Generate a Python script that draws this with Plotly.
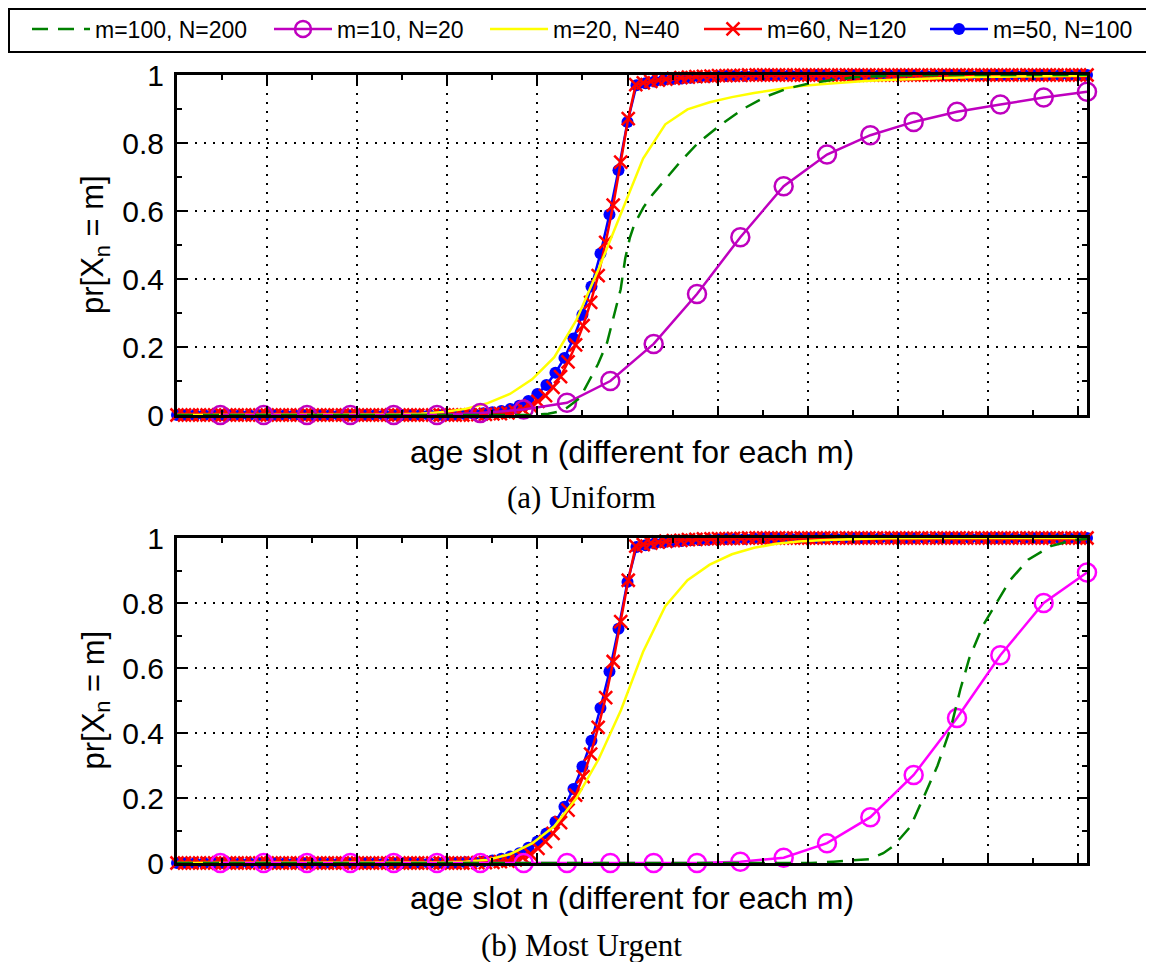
import plotly.graph_objects as go

# ---------------- data ----------------
X_MAX = 101  # axis span in age-slot units of the N=100 series

# m=50, N=100 (blue dots), n = 0..101
blue_n = list(range(0, 102))
blue_top = [0, 0, 0, 0, 0, 0, 0, 0, 0, 0,
            0, 0, 0, 0, 0, 0, 0, 0, 0, 0,
            0, 0, 0, 0, 0, 0, 0, 0, 0, 0,
            0, 0.001, 0.002, 0.003, 0.005, 0.008, 0.012, 0.018, 0.027, 0.041,
            0.062, 0.088, 0.124, 0.168, 0.225, 0.295, 0.378, 0.475, 0.590, 0.720,
            0.862, 0.970, 0.976, 0.981, 0.985, 0.988, 0.990, 0.992, 0.994, 0.995,
            0.996, 0.997, 0.998, 0.998, 0.999, 0.999, 1, 1, 1, 1,
            1, 1, 1, 1, 1, 1, 1, 1, 1, 1,
            1, 1, 1, 1, 1, 1, 1, 1, 1, 1,
            1, 1, 1, 1, 1, 1, 1, 1, 1, 1,
            1, 1]
blue_bot = [0, 0, 0, 0, 0, 0, 0, 0, 0, 0,
            0, 0, 0, 0, 0, 0, 0, 0, 0, 0,
            0, 0, 0, 0, 0, 0, 0, 0, 0, 0,
            0, 0.001, 0.002, 0.003, 0.005, 0.008, 0.013, 0.020, 0.030, 0.047,
            0.066, 0.091, 0.127, 0.173, 0.228, 0.297, 0.376, 0.477, 0.589, 0.721,
            0.865, 0.972, 0.978, 0.983, 0.986, 0.989, 0.991, 0.993, 0.994, 0.995,
            0.996, 0.997, 0.998, 0.998, 0.999, 0.999, 1, 1, 1, 1,
            1, 1, 1, 1, 1, 1, 1, 1, 1, 1,
            1, 1, 1, 1, 1, 1, 1, 1, 1, 1,
            1, 1, 1, 1, 1, 1, 1, 1, 1, 1,
            1, 1]

# m=60, N=120 (red x), n = 0..121
red_n = list(range(0, 122))
red_top = [0, 0, 0, 0, 0, 0, 0, 0, 0, 0,
           0, 0, 0, 0, 0, 0, 0, 0, 0, 0,
           0, 0, 0, 0, 0, 0, 0, 0, 0, 0,
           0, 0, 0, 0, 0, 0, 0, 0, 0, 0,
           0.001, 0.002, 0.003, 0.004, 0.006, 0.010, 0.017, 0.027, 0.040, 0.057,
           0.081, 0.113, 0.156, 0.206, 0.263, 0.331, 0.410, 0.508, 0.617, 0.744,
           0.872, 0.972, 0.977, 0.981, 0.985, 0.988, 0.990, 0.992, 0.994, 0.995,
           0.996, 0.997, 0.998, 0.998, 0.999, 0.999, 1, 1, 1, 1,
           1, 1, 1, 1, 1, 1, 1, 1, 1, 1,
           1, 1, 1, 1, 1, 1, 1, 1, 1, 1,
           1, 1, 1, 1, 1, 1, 1, 1, 1, 1,
           1, 1, 1, 1, 1, 1, 1, 1, 1, 1,
           1, 1]
red_bot = [0, 0, 0, 0, 0, 0, 0, 0, 0, 0,
           0, 0, 0, 0, 0, 0, 0, 0, 0, 0,
           0, 0, 0, 0, 0, 0, 0, 0, 0, 0,
           0, 0, 0, 0, 0, 0, 0, 0, 0, 0,
           0.001, 0.001, 0.002, 0.004, 0.006, 0.010, 0.017, 0.027, 0.045, 0.066,
           0.091, 0.124, 0.163, 0.209, 0.266, 0.335, 0.417, 0.509, 0.620, 0.743,
           0.870, 0.975, 0.980, 0.984, 0.987, 0.990, 0.992, 0.993, 0.995, 0.996,
           0.997, 0.997, 0.998, 0.998, 0.999, 0.999, 1, 1, 1, 1,
           1, 1, 1, 1, 1, 1, 1, 1, 1, 1,
           1, 1, 1, 1, 1, 1, 1, 1, 1, 1,
           1, 1, 1, 1, 1, 1, 1, 1, 1, 1,
           1, 1, 1, 1, 1, 1, 1, 1, 1, 1,
           1, 1]

# m=20, N=40 (yellow line), n = 0..41
yellow_n = list(range(0, 42))
yellow_top = [0, 0, 0, 0, 0, 0, 0, 0, 0, 0,
              0.002, 0.004, 0.009, 0.018, 0.035, 0.062, 0.105, 0.170, 0.280, 0.430,
              0.590, 0.754, 0.855, 0.899, 0.920, 0.935, 0.947, 0.958, 0.967, 0.973,
              0.978, 0.982, 0.985, 0.988, 0.990, 0.992, 0.994, 0.995, 0.996, 0.997,
              0.998, 0.998]
yellow_bot = [0, 0, 0, 0, 0, 0, 0, 0, 0, 0,
              0, 0.001, 0.002, 0.004, 0.010, 0.027, 0.060, 0.113, 0.200, 0.320,
              0.470, 0.650, 0.790, 0.870, 0.918, 0.950, 0.970, 0.982, 0.989, 0.993,
              0.996, 0.998, 0.999, 1, 1, 1, 1, 1, 1, 1,
              1, 1]

# m=10, N=20 (magenta circles), n = 1..21
mag_n = list(range(1, 22))
mag_top = [0, 0, 0, 0, 0, 0, 0.006, 0.016, 0.036, 0.100,
           0.209, 0.356, 0.523, 0.673, 0.766, 0.823, 0.862, 0.892, 0.913, 0.934,
           0.951]
mag_bot = [0, 0, 0, 0, 0, 0, 0, 0, 0, 0,
           0, 0, 0.004, 0.016, 0.061, 0.141, 0.271, 0.446, 0.639, 0.800,
           0.894]

# m=100, N=200 (green dashed line), sampled slots
green_n_top = [0, 78, 82, 85, 86, 88, 89, 91, 93, 95, 97, 98, 99, 100, 101,
               103, 105, 108, 111, 115, 120, 125, 130, 135, 140, 145, 150, 160, 170, 201]
green_top = [0, 0, 0.004, 0.012, 0.02, 0.04, 0.05, 0.10, 0.15, 0.213, 0.32, 0.37, 0.46, 0.52, 0.56,
             0.61, 0.648, 0.695, 0.742, 0.799, 0.853, 0.900, 0.936, 0.961, 0.976, 0.986, 0.994, 0.999, 1, 1]
green_n_bot = [0, 140, 145, 150, 153, 156, 158, 160, 162, 165, 168, 171, 173, 175, 178,
               181, 184, 188, 193, 198, 201]
green_bot = [0, 0, 0.004, 0.008, 0.012, 0.03, 0.05, 0.08, 0.112, 0.205, 0.30, 0.42, 0.533, 0.63, 0.73,
             0.80, 0.87, 0.933, 0.975, 0.993, 0.998]

N_blue, N_red, N_yellow, N_mag, N_green = 100, 120, 40, 20, 200

y_ticks = [0, 0.2, 0.4, 0.6, 0.8, 1]
y_tick_text = ["0", "0.2", "0.4", "0.6", "0.8", "1"]
x_title = "age slot n (different for each m)"
y_title = "pr[X<sub>n</sub> = m]"
captions = ["(a) Uniform", "(b) Most Urgent"]


def scale(ns, N):
    return [n * X_MAX / (N + 1) for n in ns]


# page offset of the figure (browser body margin) and figure size
OFF = 8
W, H = 1154 - OFF, 962 - OFF


def px(x):
    return (x - OFF) / W


def py(y):
    return 1 - (y - OFF) / H


fig = go.Figure()

panels = [
    dict(xa="x", ya="y", show=True, blue=blue_top, red=red_top, yel=yellow_top,
         mag=mag_top, magc="#bf00bf", gn=green_n_top, gy=green_top),
    dict(xa="x2", ya="y2", show=False, blue=blue_bot, red=red_bot, yel=yellow_bot,
         mag=mag_bot, magc="#ff00ff", gn=green_n_bot, gy=green_bot),
]

for p in panels:
    fig.add_trace(go.Scatter(
        x=scale(blue_n, N_blue), y=p["blue"], xaxis=p["xa"], yaxis=p["ya"],
        mode="lines+markers", name="m=50, N=100", showlegend=p["show"], legend="legend5",
        line=dict(color="#0000ff", width=2.5),
        marker=dict(symbol="circle", size=12, color="#0000ff"), cliponaxis=False))
    fig.add_trace(go.Scatter(
        x=scale(red_n, N_red), y=p["red"], xaxis=p["xa"], yaxis=p["ya"],
        mode="lines+markers", name="m=60, N=120", showlegend=p["show"], legend="legend4",
        line=dict(color="#ff0000", width=2.5),
        marker=dict(symbol="x-thin", size=13, color="#ff0000",
                    line=dict(color="#ff0000", width=2.5)), cliponaxis=False))
    fig.add_trace(go.Scatter(
        x=scale(yellow_n, N_yellow), y=p["yel"], xaxis=p["xa"], yaxis=p["ya"],
        mode="lines", name="m=20, N=40", showlegend=p["show"], legend="legend3",
        line=dict(color="#ffff00", width=2.5), cliponaxis=False))
    fig.add_trace(go.Scatter(
        x=scale(mag_n, N_mag), y=p["mag"], xaxis=p["xa"], yaxis=p["ya"],
        mode="lines+markers", name="m=10, N=20", showlegend=p["show"], legend="legend2",
        line=dict(color=p["magc"], width=2.5),
        marker=dict(symbol="circle-open", size=18, color=p["magc"],
                    line=dict(color=p["magc"], width=2.5)), cliponaxis=False))
    fig.add_trace(go.Scatter(
        x=scale(p["gn"], N_green), y=p["gy"], xaxis=p["xa"], yaxis=p["ya"],
        mode="lines", name="m=100, N=200", showlegend=p["show"], legend="legend",
        line=dict(color="#008000", width=2.5, dash="16px,10px"), cliponaxis=False))

axis_font = dict(family="Liberation Sans, Arial, sans-serif", size=30, color="black")
common_x = dict(range=[0, X_MAX], tick0=0, dtick=10, showticklabels=False,
                ticks="inside", ticklen=9, tickwidth=2, tickcolor="black",
                minor=dict(ticks="inside", dtick=5, ticklen=5, tickwidth=2, tickcolor="black", showgrid=False),
                showline=True, linecolor="black", linewidth=3, mirror="ticks",
                showgrid=True, gridcolor="black", gridwidth=1.5, griddash="2px,7px",
                zeroline=False, automargin=False)
common_y = dict(range=[0, 1], tickvals=y_ticks, ticktext=y_tick_text, tickfont=axis_font,
                ticks="inside", ticklen=9, tickwidth=2, tickcolor="black",
                minor=dict(ticks="inside", dtick=0.1, ticklen=5, tickwidth=2, tickcolor="black", showgrid=False),
                showline=True, linecolor="black", linewidth=3, mirror="ticks",
                showgrid=True, gridcolor="black", gridwidth=1.5, griddash="2px,7px",
                zeroline=False, ticklabelstandoff=4, automargin=False)

x_dom = [px(177), px(1087)]
top_dom = [py(415), py(75)]
bot_dom = [py(863), py(538)]

legend_font = dict(family="Liberation Sans, Arial, sans-serif", size=23, color="black")
legend_row_y = py(29)
ITEM_W = 58
# page x where each legend entry's text starts in the reference
legend_text_x = [92, 334, 550, 764, 990]


def legend_at(tx):
    return dict(orientation="h", x=max(px(tx - ITEM_W - 7), 0), y=legend_row_y,
                xanchor="left", yanchor="middle", itemwidth=ITEM_W,
                borderwidth=0, bgcolor="rgba(0,0,0,0)", font=legend_font)


fig.update_layout(
    width=W, height=H, margin=dict(l=0, r=0, t=0, b=0, pad=0, autoexpand=False),
    paper_bgcolor="white", plot_bgcolor="white",
    xaxis=dict(domain=x_dom, anchor="y", **common_x),
    yaxis=dict(domain=top_dom, anchor="x", **common_y),
    xaxis2=dict(domain=x_dom, anchor="y2", **common_x),
    yaxis2=dict(domain=bot_dom, anchor="x2", **common_y),
    legend=legend_at(legend_text_x[0]),
    legend2=legend_at(legend_text_x[1]),
    legend3=legend_at(legend_text_x[2]),
    legend4=legend_at(legend_text_x[3]),
    legend5=legend_at(legend_text_x[4]),
    showlegend=True,
)

# legend frame
fig.add_shape(type="rect", xref="paper", yref="paper",
              x0=px(9), x1=px(1148), y0=py(52), y1=py(9),
              line=dict(color="black", width=2), fillcolor="rgba(0,0,0,0)")

ann_font_sans = dict(family="Liberation Sans, Arial, sans-serif", size=32, color="black")
ann_font_ylab = dict(family="Liberation Sans, Arial, sans-serif", size=31, color="black")
ann_font_serif = dict(family="Liberation Serif, Times New Roman, serif", size=31, color="black")
xc = (x_dom[0] + x_dom[1]) / 2
for dom, ty in [(top_dom, 452), (bot_dom, 898)]:
    fig.add_annotation(x=px(95), y=(dom[0] + dom[1]) / 2, xref="paper", yref="paper",
                       text=y_title, textangle=-90, showarrow=False, font=ann_font_ylab,
                       xanchor="center", yanchor="middle")
    fig.add_annotation(x=xc, y=py(ty), xref="paper", yref="paper", text=x_title,
                       showarrow=False, font=ann_font_sans, xanchor="center", yanchor="middle")
for cap, cy in zip(captions, [498, 945]):
    fig.add_annotation(x=px(581), y=py(cy), xref="paper", yref="paper", text=cap,
                       showarrow=False, font=ann_font_serif, xanchor="center", yanchor="middle")

fig.write_html("out.html")
